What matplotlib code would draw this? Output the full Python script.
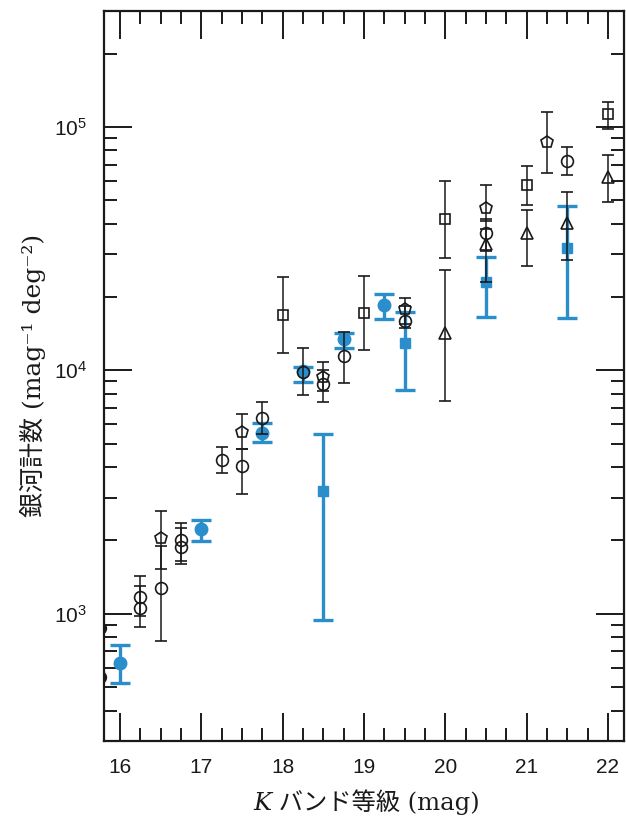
import numpy as np
import matplotlib
matplotlib.use('Agg')
import matplotlib.pyplot as plt
from matplotlib.ticker import FixedLocator, LogLocator, NullFormatter, MultipleLocator

plt.rcParams['mathtext.fontset'] = 'cm'

blue = '#2a8dcc'

# open circles (black)
circ_mag = [16.25, 16.25, 16.5, 16.75, 16.75, 17.25, 17.5, 17.75, 18.25, 18.5, 18.75, 19.5, 20.5, 21.5]
circ_n = [1170, 1060, 1270, 2000, 1880, 4300, 4030, 6380, 9840, 8800, 11430, 16000, 36500, 72100]
circ_lo = [980, 880, 770, 1650, 1600, 3800, 3100, 5470, 7880, 7400, 8890, 14900, 31000, 63400]
circ_hi = [1430, 1300, 1900, 2350, 2250, 4850, 4750, 7400, 12300, 10000, 14390, 18300, 42000, 83000]

# points cut by the left frame
edge_mag = [15.75, 15.75]
edge_n = [870, 550]

# open pentagons
pent_mag = [16.5, 17.5, 18.5, 19.5, 20.5, 21.25]
pent_n = [2050, 5600, 9400, 17800, 46600, 86500]
pent_lo = [1530, 4750, 8200, 15500, 41000, 64600]
pent_hi = [2650, 6600, 10800, 19900, 57500, 115000]

# open squares
sq_mag = [18.0, 19.0, 20.0, 21.0, 22.0]
sq_n = [16900, 17200, 41700, 57500, 113000]
sq_lo = [11800, 12100, 28800, 47700, 98000]
sq_hi = [24200, 24300, 60000, 69200, 127000]

# open triangles
tri_mag = [20.0, 20.5, 21.0, 21.5, 22.0]
tri_n = [14200, 32900, 36700, 40100, 62400]
tri_lo = [7450, 23000, 26700, 28500, 48900]
tri_hi = [25900, 38000, 45500, 54100, 76600]

# filled blue circles
bc_mag = [16.0, 17.0, 17.75, 18.25, 18.75, 19.25]
bc_n = [630, 2220, 5500, 9900, 13500, 18600]
bc_lo = [520, 1990, 5090, 8950, 12400, 16200]
bc_hi = [745, 2420, 6050, 10330, 14250, 20600]

# filled blue squares
bs_mag = [18.5, 19.5, 20.5, 21.5]
bs_n = [3200, 12900, 23000, 31800]
bs_lo = [940, 8300, 16600, 16400]
bs_hi = [5450, 17300, 29100, 47300]


def err(n, lo, hi):
    n = np.array(n, dtype=float)
    return [n - np.array(lo), np.array(hi) - n]


fig = plt.figure(figsize=(6.26, 8.22), dpi=100)
ax = fig.add_axes([0.166, 0.0985, 0.831, 0.8885])

# blue first, black drawn on top
ax.errorbar(bc_mag, bc_n, yerr=err(bc_n, bc_lo, bc_hi), fmt='o', color=blue,
            ms=9, elinewidth=2.4, capsize=7, capthick=2.4, zorder=2)
ax.errorbar(bs_mag, bs_n, yerr=err(bs_n, bs_lo, bs_hi), fmt='s', color=blue,
            ms=6.5, elinewidth=2.4, capsize=7, capthick=2.4, zorder=2)

black_kw = dict(color='#1a1a1a', mfc='none', mec='#1a1a1a', mew=1.2,
                elinewidth=1.1, capsize=4, capthick=1.1, zorder=3)
ax.errorbar(circ_mag, circ_n, yerr=err(circ_n, circ_lo, circ_hi), fmt='o', ms=8.5, **black_kw)
ax.errorbar(pent_mag, pent_n, yerr=err(pent_n, pent_lo, pent_hi), fmt='p', ms=9, **black_kw)
ax.errorbar(sq_mag, sq_n, yerr=err(sq_n, sq_lo, sq_hi), fmt='s', ms=7, **black_kw)
ax.errorbar(tri_mag, tri_n, yerr=err(tri_n, tri_lo, tri_hi), fmt='^', ms=8.5, **black_kw)
ax.plot(edge_mag, edge_n, 'o', ms=8, mfc='none', mec='#1a1a1a', mew=1.6, zorder=3)

ax.set_yscale('log')
ax.set_xlim(15.8, 22.2)
ax.set_ylim(300, 3e5)

ax.xaxis.set_major_locator(MultipleLocator(1))
ax.xaxis.set_minor_locator(MultipleLocator(0.25))
ax.yaxis.set_major_locator(FixedLocator([1e3, 1e4, 1e5]))
ax.yaxis.set_minor_locator(LogLocator(base=10, subs=np.arange(2, 10)))
ax.yaxis.set_minor_formatter(NullFormatter())
ax.set_yticklabels([r'$\mathregular{10^3}$', r'$\mathregular{10^4}$', r'$\mathregular{10^5}$'])

ax.tick_params(which='both', direction='in', top=True, right=True, color='#1a1a1a')
ax.tick_params(which='major', length=20, width=1.4, labelsize=15, pad=12)
ax.tick_params(which='minor', length=9.5, width=1.4)
for lab in ax.get_xticklabels() + ax.get_yticklabels():
    lab.set_family('Liberation Sans')
    lab.set_color('#1a1a1a')
for sp in ax.spines.values():
    sp.set_linewidth(1.6)
    sp.set_color('#1a1a1a')

lab_fam = ['DejaVu Serif', 'Noto Sans CJK JP']
ax.set_ylabel('銀河計数 (mag⁻¹ deg⁻²)', family=lab_fam, fontsize=18,
              color='#1a1a1a', labelpad=6)

# x label: italic K followed by the rest, placed side by side
xl = fig.text(0.6, 0.008, ' バンド等級 (mag)', family=lab_fam, fontsize=17.5,
              color='#1a1a1a', ha='center', va='bottom')
fig.canvas.draw()
bb = xl.get_window_extent().transformed(fig.transFigure.inverted())
fig.text(bb.x0, 0.008, 'K', family='DejaVu Serif', style='italic', fontsize=17.5,
         color='#1a1a1a', ha='right', va='bottom')

fig.savefig('out.png', dpi=100)
